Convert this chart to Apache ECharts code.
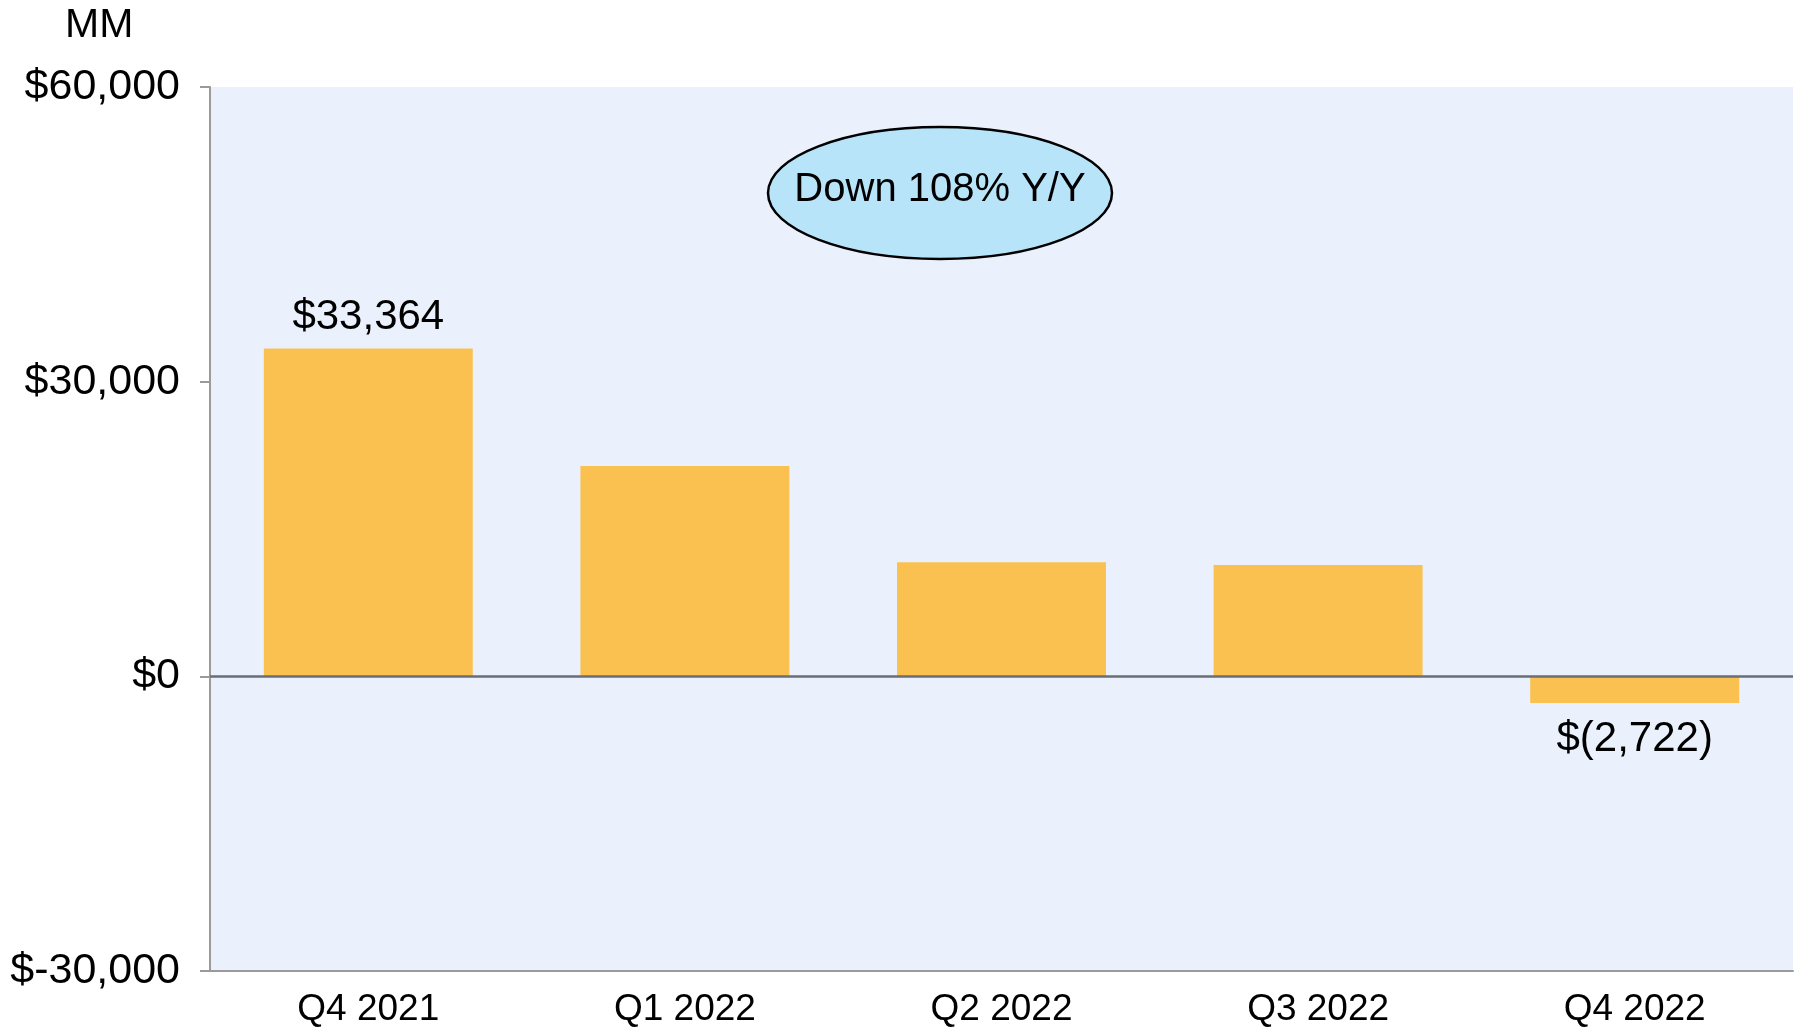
<!DOCTYPE html>
<html>
<head>
<meta charset="utf-8">
<script src="https://cdn.jsdelivr.net/npm/echarts@6/dist/echarts.min.js"></script>
<style>
  html, body { margin: 0; padding: 0; background: #fff; }
  #main { width: 1798px; height: 1028px; }
</style>
</head>
<body>
<div id="main"></div>
<script>
var quarters = ['Q4 2021', 'Q1 2022', 'Q2 2022', 'Q3 2022', 'Q4 2022'];
var netIncome = [33364, 21413, 11607, 11323, -2722];
var labeledQuarters = ['Q4 2021', 'Q4 2022'];
var yTicks = [-30000, 0, 30000, 60000];
var calloutText = 'Down 108% Y/Y';

var chartDom = document.getElementById('main');
var myChart = echarts.init(chartDom);
var option;

function money(v) {
    var s = Math.abs(v).toLocaleString('en-US');
    return v < 0 ? '$(' + s + ')' : '$' + s;
}

var barData = netIncome.map(function (v, i) {
    var item = { value: v };
    if (labeledQuarters.indexOf(quarters[i]) >= 0) {
        item.label = {
            show: true,
            position: v < 0 ? 'bottom' : 'top',
            distance: v < 0 ? 15 : 10
        };
    }
    return item;
});

option = {
    animation: false,
    textStyle: { fontFamily: 'Liberation Sans, Arial, sans-serif' },
    grid: {
        left: 210,
        right: 5,
        top: 87,
        bottom: 57,
        show: true,
        backgroundColor: '#EBF1FC',
        borderWidth: 0
    },
    xAxis: {
        type: 'category',
        data: quarters,
        axisLine: { onZero: false, lineStyle: { color: '#9a9a9a', width: 2 } },
        axisTick: { alignWithLabel: true, length: 11, lineStyle: { color: '#9a9a9a', width: 2 } },
        axisLabel: { color: '#000', fontSize: 37, margin: 20 }
    },
    yAxis: {
        type: 'value',
        min: yTicks[0],
        max: yTicks[yTicks.length - 1],
        interval: 30000,
        splitLine: { show: false },
        axisLine: { show: true, lineStyle: { color: '#9a9a9a', width: 2 } },
        axisTick: { show: true, length: 10, lineStyle: { color: '#9a9a9a', width: 2 } },
        axisLabel: {
            color: '#000',
            fontSize: 43,
            margin: 30,
            formatter: function (v) {
                return '$' + (v < 0 ? '-' : '') + Math.abs(v).toLocaleString('en-US');
            }
        }
    },
    series: [
        {
            type: 'bar',
            data: barData,
            barWidth: '66%',
            itemStyle: { color: '#FAC150' },
            label: {
                show: false,
                color: '#000',
                fontSize: 42,
                formatter: function (p) { return money(p.value); }
            },
            markLine: {
                silent: true,
                symbol: 'none',
                label: { show: false },
                lineStyle: { color: '#686d76', width: 2.5, type: 'solid' },
                data: [{ yAxis: 0 }]
            }
        }
    ],
    graphic: [
        {
            type: 'text',
            left: 65,
            top: 5,
            style: { text: 'MM', fontSize: 41, fill: '#000', fontFamily: 'Liberation Sans, Arial, sans-serif' }
        },
        {
            type: 'ellipse',
            shape: { cx: 940, cy: 193, rx: 172, ry: 66 },
            style: { fill: '#B8E4F9', stroke: '#000', lineWidth: 2.5 },
            z: 10
        },
        {
            type: 'text',
            x: 940,
            y: 190,
            style: {
                text: calloutText,
                fontSize: 40,
                fill: '#000',
                align: 'center',
                verticalAlign: 'middle',
                fontFamily: 'Liberation Sans, Arial, sans-serif'
            },
            z: 11
        }
    ]
};

option && myChart.setOption(option);
</script>
</body>
</html>
